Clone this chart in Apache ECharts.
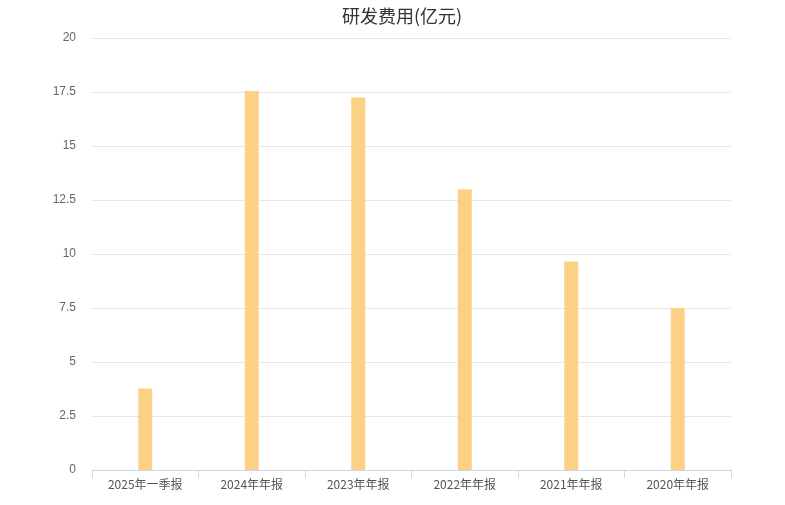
<!DOCTYPE html>
<html>
<head>
<meta charset="utf-8">
<script src="https://cdn.jsdelivr.net/npm/echarts@6/dist/echarts.min.js"></script>
<style>
  html, body { margin: 0; padding: 0; background: #fff; }
  #chart { width: 785px; height: 505px; }
</style>
</head>
<body>
<div id="chart"></div>
<script>
var categories = ['2025年一季报', '2024年年报', '2023年年报', '2022年年报', '2021年年报', '2020年年报'];
var values = [3.77, 17.55, 17.25, 13.0, 9.65, 7.5];

var myChart = echarts.init(document.getElementById('chart'));
var option = {
  title: {
    text: '研发费用(亿元)',
    left: 337,
    top: 2,
    textStyle: { fontSize: 18, fontWeight: 'normal', color: '#333', fontFamily: 'Noto Sans CJK SC' }
  },
  grid: { left: 92, right: 54, top: 38, bottom: 35 },
  xAxis: {
    type: 'category',
    data: categories,
    axisLine: { lineStyle: { color: '#ccd6eb' } },
    axisTick: { show: true, length: 8, lineStyle: { color: '#ccd6eb' } },
    axisLabel: { color: '#555', fontSize: 12, margin: 8, fontFamily: 'Noto Sans CJK SC' }
  },
  yAxis: {
    type: 'value',
    min: 0,
    max: 20,
    interval: 2.5,
    axisLine: { show: false },
    axisTick: { show: false },
    axisLabel: { color: '#666', fontSize: 12, margin: 16 },
    splitLine: { lineStyle: { color: '#e6e6e6' } }
  },
  series: [
    {
      type: 'bar',
      data: values,
      barWidth: 14,
      itemStyle: { color: '#fdd185' }
    }
  ]
};
myChart.setOption(option);
</script>
</body>
</html>
